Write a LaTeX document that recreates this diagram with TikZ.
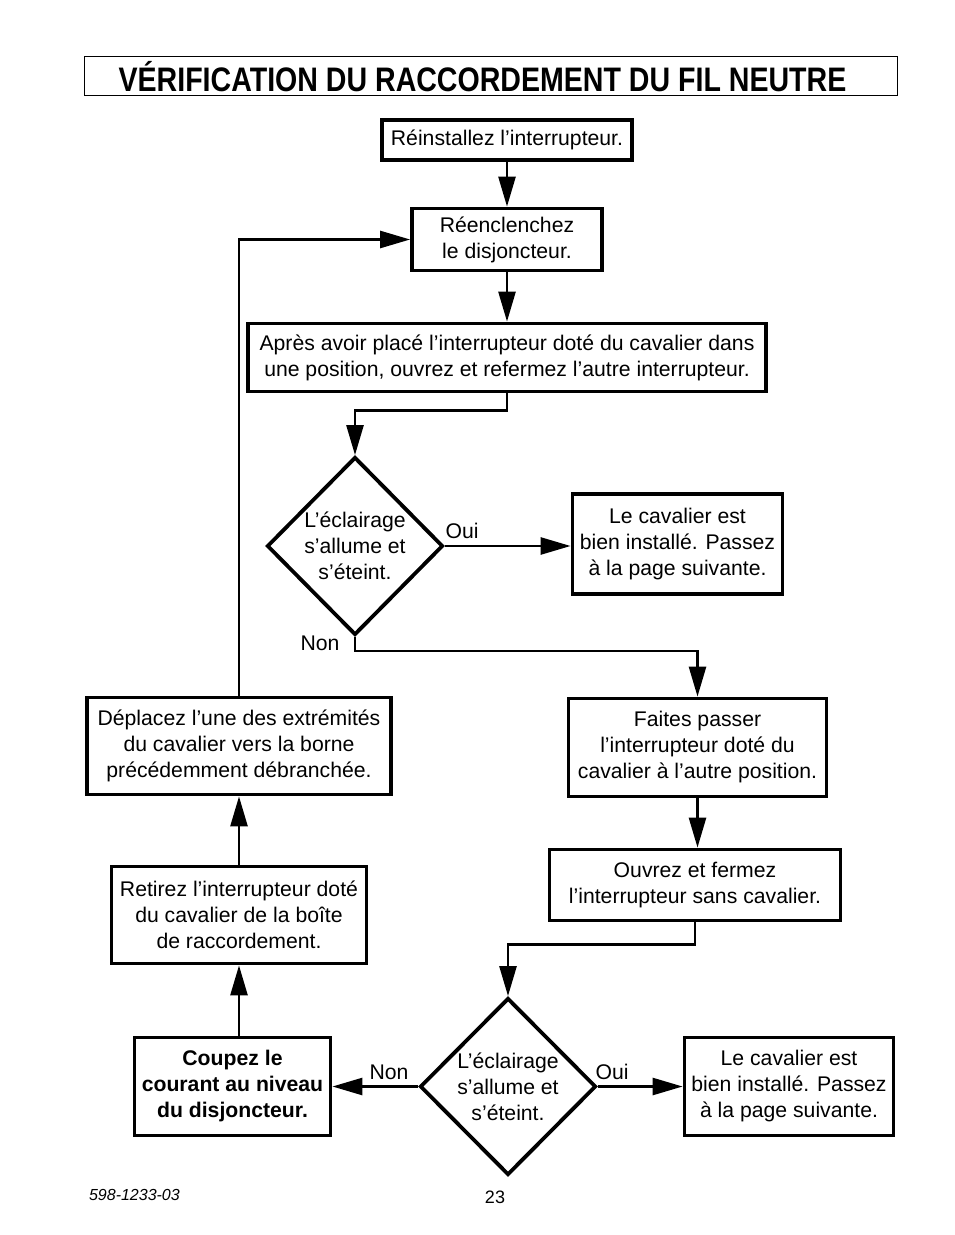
\documentclass[tikz,border=0pt]{standalone}
\usepackage{fontspec}
\setmainfont{Liberation Sans}
\usepackage{tikz}
\usetikzlibrary{arrows.meta}
\usetikzlibrary{shapes.geometric}

\tikzset{
  box/.style={draw, line width=1.9pt, align=center, inner sep=0pt,
    font=\fontsize{10.6}{13}\selectfont},
  choice/.style={draw, diamond, line width=1.9pt, align=center, inner sep=0pt,
    font=\fontsize{10.6}{13}\selectfont},
  arr/.style={line width=1.3pt, -{Triangle[length=15pt,width=8.5pt]}},
  lbl/.style={font=\fontsize{10.6}{13}\selectfont}
}

\begin{document}
\begin{tikzpicture}[x=0.5pt,y=-0.5pt]
\useasboundingbox (0,0) rectangle (954,1235);

% title
\node[draw, line width=0.5pt, minimum width=406.5pt, minimum height=19.5pt, inner sep=0pt] (title) at (490.5,76.5) {};
\node (titletext) at (482.5,76.5)
  {\scalebox{0.84}[1]{\fontsize{17}{20}\selectfont\bfseries V\'ERIFICATION DU RACCORDEMENT DU FIL NEUTRE}};

% boxes
\node[box, minimum width=125pt, minimum height=20pt] (reinst) at (507,140) {R\'einstallez l'interrupteur.};
\node[box, minimum width=95pt, minimum height=31pt] (reencl) at (507,239.5) {R\'eenclenchez\\le disjoncteur.};
\node[box, minimum width=259pt, minimum height=34pt] (apres) at (507,357.5)
  {Apr\`es avoir plac\'e l'interrupteur dot\'e du cavalier dans\\une position, ouvrez et refermez l'autre interrupteur.};
\node[choice, minimum width=88pt, minimum height=89pt] (test1) at (355,546) {L'\'eclairage\\s'allume et\\s'\'eteint.};
\node[box, minimum width=105pt, minimum height=50pt] (ok1) at (677.5,544) {Le cavalier est\\bien install\'e. Passez\\\`a la page suivante.};
\node[box, minimum width=152pt, minimum height=48.5pt] (deplac) at (239,746)
  {D\'eplacez l'une des extr\'emit\'es\\du cavalier vers la borne\\pr\'ec\'edemment d\'ebranch\'ee.};
\node[box, minimum width=129pt, minimum height=49pt] (faites) at (697.5,747.5)
  {Faites passer\\l'interrupteur dot\'e du\\cavalier \`a l'autre position.};
\node[box, minimum width=145.5pt, minimum height=35.5pt] (ouvrez) at (695,885)
  {Ouvrez et fermez\\l'interrupteur sans cavalier.};
\node[box, minimum width=127.5pt, minimum height=48.5pt] (retirez) at (239,915)
  {Retirez l'interrupteur dot\'e\\du cavalier de la bo\^ite\\de raccordement.};
\node[choice, minimum width=88pt, minimum height=88.5pt] (test2) at (508,1086.5) {L'\'eclairage\\s'allume et\\s'\'eteint.};
\node[box, minimum width=98pt, minimum height=49pt, font=\fontsize{10.6}{13}\selectfont\bfseries] (coupez) at (232.5,1086.5)
  {Coupez le\\courant au niveau\\du disjoncteur.};
\node[box, minimum width=104.5pt, minimum height=49pt] (ok2) at (789,1086.5) {Le cavalier est\\bien install\'e. Passez\\\`a la page suivante.};

% connectors
\draw[arr] (reinst) -- (reencl);
\draw[arr] (reencl) -- (apres);
\draw[arr] (apres.south) -- ++(0,17) -| (test1.north);
\draw[arr] (test1.east) -- (test1.east -| ok1.west);
\draw[arr] (test1.south) -- ++(0,14) -| (faites.north);
\draw[arr] (faites.south) -- (faites.south |- ouvrez.north);
\draw[arr] (ouvrez.south) -- ++(0,22) -| (test2.north);
\draw[arr] (test2.west) -- (coupez.east);
\draw[arr] (test2.east) -- (ok2.west);
\draw[arr] (coupez.north -| retirez.south) -- (retirez.south);
\draw[arr] (retirez) -- (deplac);
\draw[arr] (deplac.north) |- (reencl.west);

% labels
\node[lbl] (oui1) at (462,531) {Oui};
\node[lbl] (non1) at (320,643) {Non};
\node[lbl] (non2) at (389,1072) {Non};
\node[lbl] (oui2) at (612,1072) {Oui};

% footer
\node[anchor=west, font=\fontsize{8}{10}\selectfont\itshape] (ref) at (82,1195) {598-1233-03};
\node[font=\fontsize{9}{11}\selectfont] (page) at (495,1197) {23};
\end{tikzpicture}
\end{document}
